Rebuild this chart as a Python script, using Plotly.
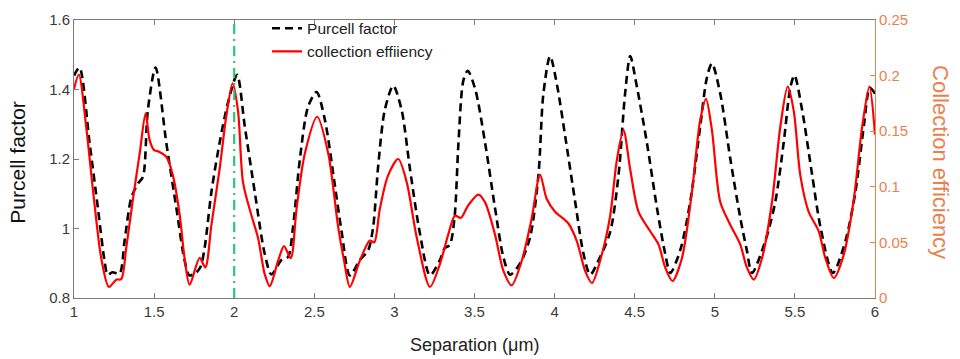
import plotly.graph_objects as go

# Purcell factor vs. emitter separation (left axis)
pf_x = [1.0, 1.034, 1.097, 1.149, 1.19, 1.21, 1.24, 1.284, 1.316, 1.357, 1.40, 1.43,
        1.461, 1.509, 1.576, 1.639, 1.69, 1.72, 1.76, 1.79, 1.816, 1.858, 1.909, 1.96,
        2.018, 2.066, 2.128, 2.19, 2.232, 2.295, 2.336, 2.367, 2.41, 2.461, 2.514, 2.566,
        2.628, 2.67, 2.722, 2.784, 2.836, 2.867, 2.899, 2.94, 2.993, 3.045, 3.097, 3.16,
        3.222, 3.284, 3.315, 3.345, 3.375, 3.40, 3.43, 3.458, 3.505, 3.566, 3.628, 3.68,
        3.722, 3.785, 3.847, 3.899, 3.93, 3.972, 4.014, 4.066, 4.128, 4.18, 4.222, 4.284,
        4.347, 4.399, 4.44, 4.472, 4.514, 4.576, 4.639, 4.69, 4.722, 4.784, 4.847, 4.909,
        4.951, 4.982, 5.034, 5.097, 5.159, 5.2, 5.232, 5.316, 5.378, 5.43, 5.472, 5.497,
        5.545, 5.608, 5.66, 5.737, 5.816, 5.878, 5.93, 5.968, 6.0]
pf_y = [1.44, 1.463, 1.247, 1.059, 0.909, 0.867, 0.874, 0.870, 0.965, 1.087, 1.13, 1.148,
        1.341, 1.463, 1.247, 1.059, 0.909, 0.865, 0.872, 0.89, 0.946, 1.106, 1.247, 1.36,
        1.442, 1.294, 1.106, 0.928, 0.868, 0.909, 0.918, 1.003, 1.2, 1.35, 1.393, 1.313,
        1.125, 0.993, 0.865, 0.909, 0.937, 1.003, 1.181, 1.341, 1.411, 1.341, 1.172, 0.984,
        0.865, 0.909, 0.944, 0.952, 1.03, 1.247, 1.425, 1.454, 1.40, 1.247, 1.059, 0.918,
        0.867, 0.90, 0.975, 1.153, 1.388, 1.496, 1.416, 1.266, 1.078, 0.928, 0.867, 0.918,
        0.99, 1.153, 1.388, 1.496, 1.407, 1.247, 1.059, 0.928, 0.872, 0.937, 1.078, 1.294,
        1.435, 1.475, 1.388, 1.2, 1.031, 0.937, 0.872, 0.965, 1.078, 1.247, 1.407, 1.441,
        1.341, 1.153, 1.003, 0.872, 0.965, 1.106, 1.294, 1.405, 1.388]

# Collection efficiency vs. separation (right axis)
ce_x = [1.0, 1.03, 1.076, 1.12, 1.17, 1.218, 1.264, 1.295, 1.326, 1.368, 1.41, 1.447,
        1.472, 1.50, 1.524, 1.576, 1.618, 1.66, 1.69, 1.722, 1.784, 1.82, 1.858, 1.909,
        1.95, 1.99, 2.024, 2.055, 2.107, 2.149, 2.19, 2.222, 2.274, 2.311, 2.353, 2.389,
        2.441, 2.518, 2.587, 2.65, 2.686, 2.722, 2.784, 2.847, 2.874, 2.909, 2.96, 3.024,
        3.077, 3.14, 3.222, 3.284, 3.336, 3.378, 3.414, 3.461, 3.524, 3.566, 3.628, 3.68,
        3.732, 3.795, 3.857, 3.909, 3.951, 4.003, 4.086, 4.139, 4.19, 4.233, 4.295, 4.347,
        4.389, 4.43, 4.472, 4.524, 4.597, 4.649, 4.69, 4.736, 4.795, 4.857, 4.909, 4.945,
        4.982, 5.034, 5.097, 5.159, 5.2, 5.243, 5.295, 5.357, 5.409, 5.455, 5.493, 5.534,
        5.586, 5.649, 5.69, 5.743, 5.805, 5.868, 5.92, 5.965, 6.0]
ce_y = [0.188, 0.201, 0.154, 0.095, 0.036, 0.010, 0.0165, 0.017, 0.045, 0.089, 0.130, 0.166,
        0.142, 0.133, 0.132, 0.127, 0.110, 0.0746, 0.036, 0.012, 0.036, 0.0276, 0.066, 0.116,
        0.163, 0.193, 0.168, 0.104, 0.0746, 0.054, 0.0217, 0.0106, 0.0335, 0.0467, 0.0358, 0.080,
        0.130, 0.163, 0.130, 0.0628, 0.0335, 0.010, 0.0335, 0.0517, 0.050, 0.080, 0.11, 0.125,
        0.104, 0.054, 0.010, 0.0305, 0.057, 0.074, 0.072, 0.0833, 0.093, 0.086, 0.057, 0.0246,
        0.0114, 0.0335, 0.0716, 0.111, 0.089, 0.0775, 0.067, 0.051, 0.0246, 0.0135, 0.0393, 0.074,
        0.1244, 0.151, 0.1156, 0.0775, 0.060, 0.048, 0.0276, 0.0153, 0.036, 0.095, 0.16, 0.179,
        0.151, 0.0863, 0.0657, 0.048, 0.0276, 0.0165, 0.036, 0.0863, 0.154, 0.190, 0.168, 0.11,
        0.0775, 0.060, 0.036, 0.018, 0.039, 0.089, 0.154, 0.19, 0.147]

x_ticks = [1, 1.5, 2, 2.5, 3, 3.5, 4, 4.5, 5, 5.5, 6]
pf_ticks = [0.8, 1.0, 1.2, 1.4, 1.6]
ce_ticks = [0, 0.05, 0.1, 0.15, 0.2, 0.25]
marker_x = 2.0

FONT = "Arial"
ORANGE = "#E9814F"
AXIS_GRAY = "#7a7a7a"
TICK_TEXT = "#3a3a3a"

fig = go.Figure()
fig.add_trace(go.Scatter(
    x=pf_x, y=pf_y, name="Purcell factor", mode="lines",
    line=dict(color="black", width=2.6, dash="8px,5px", shape="spline", smoothing=0.8),
))
fig.add_trace(go.Scatter(
    x=ce_x, y=ce_y, name="collection effiiency", mode="lines", yaxis="y2",
    line=dict(color="#FF0000", width=2.2, shape="spline", smoothing=0.8),
))

fig.add_shape(type="line", xref="x", yref="paper", x0=marker_x, x1=marker_x, y0=0, y1=1,
              line=dict(color="#22CC77", width=2.2, dash="10px,5px,2px,5px"))

fig.update_layout(
    width=960, height=359,
    margin=dict(l=74, r=85, t=15, b=61),
    plot_bgcolor="white", paper_bgcolor="white",
    font=dict(family=FONT, color=TICK_TEXT),
    showlegend=True,
    legend=dict(x=0.241, y=1.03, xanchor="left", yanchor="top",
                bgcolor="rgba(0,0,0,0)", font=dict(size=15.5, color="#222"),
                tracegroupgap=0),
    xaxis=dict(range=[1, 6], tickvals=x_ticks, ticks="inside", ticklen=5,
               showline=True, linecolor=AXIS_GRAY, linewidth=1, mirror="ticks",
               tickcolor=AXIS_GRAY, showgrid=False, zeroline=False,
               tickfont=dict(size=15, color=TICK_TEXT)),
    yaxis=dict(range=[0.8, 1.6], tickvals=pf_ticks, ticks="inside", ticklen=5,
               showline=True, linecolor=AXIS_GRAY, linewidth=1,
               tickcolor=AXIS_GRAY, showgrid=False, zeroline=False,
               tickfont=dict(size=15, color=TICK_TEXT)),
    yaxis2=dict(range=[0, 0.25], tickvals=ce_ticks, overlaying="y", side="right",
                ticks="inside", ticklen=5, showline=True, linecolor=ORANGE, linewidth=1,
                tickcolor=ORANGE, showgrid=False, zeroline=False,
                tickfont=dict(size=15, color=ORANGE)),
    annotations=[
        dict(text="Separation (μm)", xref="paper", yref="paper", x=0.5, y=-0.17,
             xanchor="center", yanchor="middle", showarrow=False,
             font=dict(size=18, color="#222")),
        dict(text="Purcell factor", xref="paper", yref="paper", x=-0.07, y=0.49,
             xanchor="center", yanchor="middle", showarrow=False, textangle=-90,
             font=dict(size=21, color="#111")),
        dict(text="Collection efficiency", xref="paper", yref="paper", x=1.082, y=0.49,
             xanchor="center", yanchor="middle", showarrow=False, textangle=90,
             font=dict(size=22, color=ORANGE)),
    ],
)

fig.write_html("out.html")
